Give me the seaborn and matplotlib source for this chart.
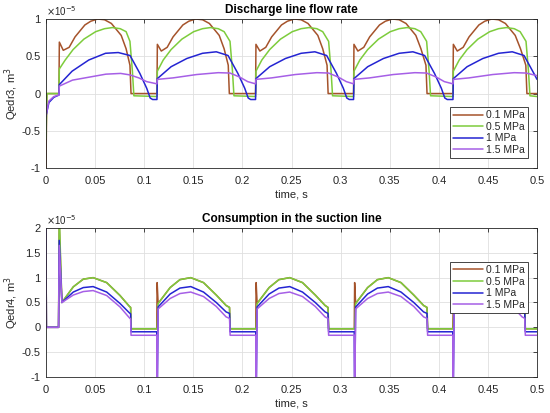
import matplotlib
matplotlib.use('Agg')
import matplotlib.pyplot as plt
import seaborn as sns
import pandas as pd
from matplotlib.ticker import MultipleLocator, FormatStrFormatter

# --- data (flow values in units of 1e-5 m^3) ---
labels = ['0.1 MPa', '0.5 MPa', '1 MPa', '1.5 MPa']
colors = ['#A5532B', '#7DCC3C', '#2424D2', '#A65FE6']

# Discharge line, 0.1 MPa
top_t_01 = [0, 0.0008, 0.0132,
            0.0136, 0.0176, 0.0236, 0.0296, 0.0396, 0.0456, 0.0526, 0.0596, 0.0666, 0.0766, 0.0816, 0.0855, 0.0866, 0.1130,
            0.1134, 0.1174, 0.1234, 0.1294, 0.1394, 0.1454, 0.1524, 0.1594, 0.1664, 0.1764, 0.1814, 0.1856, 0.1867, 0.2134,
            0.2138, 0.2178, 0.2238, 0.2298, 0.2398, 0.2458, 0.2528, 0.2598, 0.2668, 0.2768, 0.2818, 0.2862, 0.2873, 0.3132,
            0.3136, 0.3176, 0.3236, 0.3296, 0.3396, 0.3456, 0.3526, 0.3596, 0.3666, 0.3766, 0.3818, 0.3869, 0.3880, 0.4144,
            0.4148, 0.4188, 0.4248, 0.4308, 0.4408, 0.4468, 0.4538, 0.4608, 0.4678, 0.4778, 0.4832, 0.4886, 0.4897, 0.5000]
top_y_01 = [-1.0, 0.0, 0.0,
            0.69, 0.58, 0.62, 0.76, 0.92, 0.97, 1.0, 0.99, 0.94, 0.78, 0.60, 0.38, 0.0, 0.0,
            0.66, 0.57, 0.62, 0.76, 0.92, 0.97, 1.0, 0.99, 0.94, 0.78, 0.60, 0.38, 0.0, 0.0,
            0.66, 0.57, 0.62, 0.76, 0.92, 0.97, 1.0, 0.99, 0.94, 0.78, 0.60, 0.38, 0.0, 0.0,
            0.66, 0.57, 0.62, 0.76, 0.92, 0.97, 1.0, 0.99, 0.94, 0.78, 0.60, 0.38, 0.0, 0.0,
            0.66, 0.57, 0.62, 0.76, 0.92, 0.97, 1.0, 0.99, 0.94, 0.78, 0.60, 0.38, 0.0, 0.0]

# Discharge line, 0.5 MPa
top_t_05 = [0, 0.001, 0.0132,
            0.0136, 0.0196, 0.0276, 0.0386, 0.0506, 0.0596, 0.0676, 0.0756, 0.0816, 0.0855, 0.0880, 0.0895, 0.1130,
            0.1134, 0.1194, 0.1274, 0.1384, 0.1504, 0.1594, 0.1674, 0.1754, 0.1814, 0.1874, 0.1899, 0.1914, 0.2134,
            0.2138, 0.2198, 0.2278, 0.2388, 0.2508, 0.2598, 0.2678, 0.2758, 0.2818, 0.2878, 0.2903, 0.2918, 0.3132,
            0.3136, 0.3196, 0.3276, 0.3386, 0.3506, 0.3596, 0.3676, 0.3756, 0.3816, 0.3876, 0.3901, 0.3916, 0.4144,
            0.4148, 0.4208, 0.4288, 0.4398, 0.4518, 0.4608, 0.4688, 0.4768, 0.4828, 0.4888, 0.4913, 0.4928, 0.5000]
top_y_05 = [-0.6, 0.0, 0.0,
            0.33, 0.45, 0.59, 0.73, 0.83, 0.87, 0.885, 0.87, 0.83, 0.70, 0.30, -0.03, -0.04,
            0.30, 0.45, 0.59, 0.73, 0.83, 0.87, 0.885, 0.87, 0.83, 0.70, 0.30, -0.03, -0.04,
            0.30, 0.45, 0.59, 0.73, 0.83, 0.87, 0.885, 0.87, 0.83, 0.70, 0.30, -0.03, -0.04,
            0.30, 0.45, 0.59, 0.73, 0.83, 0.87, 0.885, 0.87, 0.83, 0.70, 0.30, -0.03, -0.04,
            0.30, 0.45, 0.59, 0.73, 0.83, 0.87, 0.885, 0.87, 0.83, 0.70, 0.30, -0.03, -0.04]

# Discharge line, 1 MPa
top_t_1 = [0, 0.003, 0.008, 0.0132,
           0.0136, 0.0266, 0.0436, 0.0606, 0.0736, 0.0856, 0.0956, 0.1026, 0.1061, 0.1086, 0.1130,
           0.1134, 0.1274, 0.1434, 0.1594, 0.1734, 0.1854, 0.1954, 0.2024, 0.2059, 0.2084, 0.2134,
           0.2138, 0.2278, 0.2438, 0.2598, 0.2738, 0.2858, 0.2958, 0.3028, 0.3063, 0.3088, 0.3132,
           0.3136, 0.3276, 0.3436, 0.3596, 0.3736, 0.3856, 0.3956, 0.4026, 0.4061, 0.4086, 0.4144,
           0.4148, 0.4288, 0.4448, 0.4608, 0.4748, 0.4868, 0.4968, 0.5000]
top_y_1 = [-0.3, -0.12, -0.05, -0.02,
           0.12, 0.30, 0.45, 0.54, 0.55, 0.51, 0.27, 0.07, -0.06, -0.08, -0.08,
           0.20, 0.36, 0.47, 0.54, 0.56, 0.51, 0.27, 0.07, -0.06, -0.08, -0.08,
           0.20, 0.36, 0.47, 0.54, 0.56, 0.51, 0.27, 0.07, -0.06, -0.08, -0.08,
           0.20, 0.36, 0.47, 0.54, 0.56, 0.51, 0.27, 0.07, -0.06, -0.08, -0.08,
           0.20, 0.36, 0.47, 0.54, 0.56, 0.51, 0.27, 0.19]

# Discharge line, 1.5 MPa
top_t_15 = [0, 0.003, 0.008, 0.0132,
            0.0136, 0.027, 0.044, 0.061, 0.076, 0.0855, 0.0945, 0.1025, 0.1130,
            0.1134, 0.1294, 0.1534, 0.1754, 0.1874, 0.1974, 0.2054, 0.2134,
            0.2138, 0.2298, 0.2538, 0.2758, 0.2878, 0.2978, 0.3058, 0.3132,
            0.3136, 0.3296, 0.3536, 0.3756, 0.3876, 0.3976, 0.4056, 0.4144,
            0.4148, 0.4308, 0.4548, 0.4768, 0.4888, 0.5000]
top_y_15 = [-0.3, -0.1, -0.04, -0.02,
            0.10, 0.18, 0.22, 0.26, 0.27, 0.25, 0.21, 0.16, 0.13,
            0.19, 0.21, 0.255, 0.28, 0.275, 0.22, 0.16, 0.13,
            0.19, 0.21, 0.255, 0.28, 0.275, 0.22, 0.16, 0.13,
            0.19, 0.21, 0.255, 0.28, 0.275, 0.22, 0.16, 0.13,
            0.19, 0.21, 0.255, 0.28, 0.275, 0.24]

# Suction line, shared time base
bot_t = [0, 0.0004, 0.0128, 0.0135, 0.0162, 0.0278, 0.038, 0.048, 0.0618, 0.0754, 0.085, 0.0862, 0.0866,
         0.1128, 0.1132, 0.1142, 0.1264, 0.1364, 0.1474, 0.1604, 0.1734, 0.1834, 0.1869, 0.1875,
         0.2136, 0.2140, 0.2150, 0.2272, 0.2372, 0.2482, 0.2612, 0.2742, 0.2842, 0.2872, 0.2878,
         0.3139, 0.3143, 0.3153, 0.3275, 0.3375, 0.3485, 0.3615, 0.3745, 0.3845, 0.3880, 0.3886,
         0.4142, 0.4146, 0.4156, 0.4278, 0.4378, 0.4488, 0.4618, 0.4748, 0.4848, 0.4875, 0.4881,
         0.5000]
bot_y_01 = [2.0, 0.0, 0.0, 2.1, 0.5, 0.815, 0.97, 1.0, 0.9, 0.64, 0.42, 0.40, -0.03,
            -0.03, 0.9, 0.48, 0.8, 0.96, 1.0, 0.9, 0.65, 0.44, 0.40, -0.03,
            -0.03, 0.9, 0.48, 0.8, 0.96, 1.0, 0.9, 0.65, 0.44, 0.40, -0.03,
            -0.03, 0.9, 0.48, 0.8, 0.96, 1.0, 0.9, 0.65, 0.44, 0.40, -0.03,
            -0.03, 0.3, 0.48, 0.8, 0.96, 1.0, 0.9, 0.65, 0.44, 0.40, -0.03,
            -0.03]
bot_y_05 = [2.0, 0.0, 0.0, 2.3, 0.5, 0.815, 0.97, 1.0, 0.9, 0.64, 0.42, 0.40, -0.03,
            -0.03, -0.03, 0.48, 0.8, 0.96, 1.0, 0.9, 0.65, 0.44, 0.40, -0.03,
            -0.03, -0.03, 0.48, 0.8, 0.96, 1.0, 0.9, 0.65, 0.44, 0.40, -0.03,
            -0.03, -0.03, 0.48, 0.8, 0.96, 1.0, 0.9, 0.65, 0.44, 0.40, -0.03,
            -0.03, -0.03, 0.48, 0.8, 0.96, 1.0, 0.9, 0.65, 0.44, 0.40, -0.03,
            -0.03]
bot_y_1 = [2.0, 0.0, 0.0, 1.75, 0.5, 0.71, 0.80, 0.82, 0.71, 0.48, 0.29, 0.27, -0.09,
           -0.09, -1.5, 0.41, 0.67, 0.79, 0.82, 0.71, 0.50, 0.31, 0.28, -0.09,
           -0.09, -1.5, 0.41, 0.67, 0.79, 0.82, 0.71, 0.50, 0.31, 0.28, -0.09,
           -0.09, -1.5, 0.41, 0.67, 0.79, 0.82, 0.71, 0.50, 0.31, 0.28, -0.09,
           -0.09, -1.5, 0.41, 0.67, 0.79, 0.82, 0.71, 0.50, 0.31, 0.28, -0.09,
           -0.09]
bot_y_15 = [2.0, 0.0, 0.0, 1.65, 0.5, 0.65, 0.72, 0.74, 0.64, 0.41, 0.19, 0.17, -0.16,
            -0.16, -1.5, 0.37, 0.58, 0.68, 0.71, 0.62, 0.42, 0.21, 0.18, -0.16,
            -0.16, -1.5, 0.37, 0.58, 0.68, 0.71, 0.62, 0.42, 0.21, 0.18, -0.16,
            -0.16, -1.5, 0.37, 0.58, 0.68, 0.71, 0.62, 0.42, 0.21, 0.18, -0.16,
            -0.16, -1.5, 0.37, 0.58, 0.68, 0.71, 0.62, 0.42, 0.21, 0.18, -0.16,
            -0.16]

top_series = [(top_t_01, top_y_01), (top_t_05, top_y_05), (top_t_1, top_y_1), (top_t_15, top_y_15)]
bot_series = [(bot_t, bot_y_01), (bot_t, bot_y_05), (bot_t, bot_y_1), (bot_t, bot_y_15)]

# --- style (MATLAB-like) ---
sns.set_theme(style='white')
plt.rcParams['font.family'] = ['Liberation Sans', 'DejaVu Sans']
plt.rcParams['axes.unicode_minus'] = False

fig = plt.figure(figsize=(5.5, 4.13), dpi=100)
ax_top = fig.add_axes([0.0836, 0.593, 0.8928, 0.361])
ax_bot = fig.add_axes([0.0836, 0.0872, 0.8928, 0.3608])

panels = [
    (ax_top, top_series, 'Discharge line flow rate', 'Qedr3, m$^3$', (-1, 1), 0.067),
    (ax_bot, bot_series, 'Consumption in the suction line', 'Qedr4, m$^3$', (-1, 2), 0.43),
]

for ax, series, title, ylabel, ylim, leg_y in panels:
    for (t, y), lab, col in zip(series, labels, colors):
        df = pd.DataFrame({'t': t, 'q': y})
        sns.lineplot(data=df, x='t', y='q', ax=ax, color=col, label=lab,
                     estimator=None, sort=False, linewidth=1.1)
    ax.set_xlim(0, 0.5)
    ax.set_ylim(*ylim)
    ax.xaxis.set_major_locator(MultipleLocator(0.05))
    ax.yaxis.set_major_locator(MultipleLocator(0.5))
    ax.xaxis.set_major_formatter(FormatStrFormatter('%g'))
    ax.yaxis.set_major_formatter(FormatStrFormatter('%g'))
    ax.grid(True, color='#DFDFDF', linewidth=0.6)
    ax.set_axisbelow(True)
    for sp in ax.spines.values():
        sp.set_color('#262626')
        sp.set_linewidth(0.6)
    ax.tick_params(direction='in', length=3, width=0.6, labelsize=8,
                   colors='#262626', top=True, right=True)
    ax.tick_params(axis='x', pad=6)
    ax.tick_params(axis='y', pad=4)
    ax.set_title(title, fontsize=8.5, fontweight='bold', pad=4, color='black')
    ax.set_xlabel('time, s', fontsize=8, labelpad=2, color='#262626')
    ax.set_ylabel(ylabel, fontsize=8, labelpad=0.5, color='#262626')
    ax.text(0.0, 1.005, '$\\times$10$^{-5}$', transform=ax.transAxes,
            ha='left', va='bottom', fontsize=7, color='#262626')
    leg = ax.legend(loc='lower right', bbox_to_anchor=(0.982, leg_y), fontsize=7.5,
                    frameon=True, fancybox=False, framealpha=1, edgecolor='#262626',
                    handlelength=2.9, borderpad=0.3, labelspacing=0.15, handletextpad=0.3,
                    borderaxespad=0)
    leg.get_frame().set_linewidth(0.6)

fig.savefig('out.png', dpi=100)
